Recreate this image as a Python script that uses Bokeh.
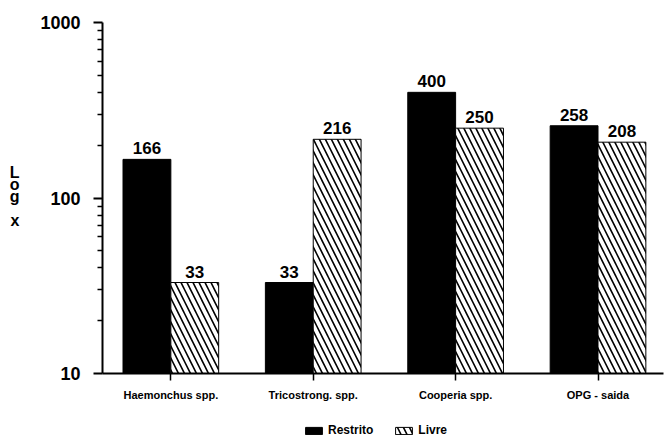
from bokeh.plotting import figure
from bokeh.layouts import column
from bokeh.models import (ColumnDataSource, Range1d, FixedTicker, LabelSet, LogAxis,
                          Legend, LegendItem)
from bokeh.core.properties import value
from bokeh.embed import file_html
from bokeh.resources import INLINE

categories = ["Haemonchus spp.", "Tricostrong. spp.", "Cooperia spp.", "OPG - saida"]
restrito = [166, 33, 400, 258]
livre = [33, 216, 250, 208]
y_ticks = [10, 100, 1000]
y_title_letters = ["L", "o", "g", "x"]
series_names = ["Restrito", "Livre"]

FONT = "Liberation Sans"
idx = list(range(len(categories)))
off = 0.168
w = 0.336

src_r = ColumnDataSource(dict(x=[i - off for i in idx], top=restrito,
                              lab=[str(v) for v in restrito]))
src_l = ColumnDataSource(dict(x=[i + off for i in idx], top=livre,
                              lab=[str(v) for v in livre]))

BLACK = dict(fill_color="black", line_color="black", line_width=1)
HATCH = dict(fill_color="white", line_color="black", line_width=1,
             hatch_pattern="\\", hatch_color="black", hatch_weight=1.6, hatch_scale=12)

p = figure(width=665, height=410, output_backend="svg", toolbar_location=None,
           y_axis_type="log", x_range=Range1d(-0.48, 3.46), y_range=Range1d(10, 1000),
           min_border_left=102, min_border_right=2, min_border_top=22, min_border_bottom=37)
p.outline_line_color = None
p.xgrid.grid_line_color = None
p.ygrid.grid_line_color = None
p.background_fill_color = "white"

p.vbar(x="x", top="top", bottom=10, width=w, source=src_r, **BLACK)
p.vbar(x="x", top="top", bottom=10, width=w, source=src_l, **HATCH)

for s in (src_r, src_l):
    p.add_layout(LabelSet(x="x", y="top", text="lab", source=s, text_align="center",
                          text_baseline="bottom", y_offset=5, text_font=value(FONT),
                          text_font_style="bold", text_font_size="17px", text_color="black"))

minor = [m * d for d in (10, 100) for m in range(2, 10)]
yax = p.yaxis[0]
yax.ticker = FixedTicker(ticks=y_ticks, minor_ticks=minor)
yax.major_label_overrides = {t: str(t) for t in y_ticks}
yax.major_tick_out = 9
yax.major_tick_in = 0
yax.minor_tick_out = 5
yax.minor_tick_in = 0
yax.major_label_standoff = 13
yax.major_label_text_font = FONT
yax.major_label_text_font_style = "bold"
yax.major_label_text_font_size = "18px"
yax.major_label_text_color = "black"
yax.axis_line_color = "black"
yax.major_tick_line_color = "black"
yax.minor_tick_line_color = "black"
yax.axis_line_width = 2
yax.major_tick_line_width = 2
yax.minor_tick_line_width = 1.5

# stacked y-axis title "Log x", drawn as the labels of a bare outer axis
title_pos = [140.6, 119.4, 102.6, 74.9]
tax = LogAxis(ticker=FixedTicker(ticks=title_pos, minor_ticks=[]),
              major_label_overrides={t: c for t, c in zip(title_pos, y_title_letters)},
              axis_line_color=None, major_tick_line_color=None, minor_tick_line_color=None,
              major_tick_out=0, major_tick_in=0, minor_tick_out=0, minor_tick_in=0,
              major_label_standoff=18, major_label_text_font=FONT,
              major_label_text_font_style="bold", major_label_text_font_size="16px",
              major_label_text_color="black")
p.add_layout(tax, "left")

xax = p.xaxis[0]
xax.ticker = FixedTicker(ticks=idx)
xax.major_label_overrides = {i: c for i, c in zip(idx, categories)}
xax.major_tick_out = 7
xax.major_tick_in = 0
xax.minor_tick_out = 0
xax.minor_tick_in = 0
xax.major_label_standoff = 8
xax.major_label_text_font = FONT
xax.major_label_text_font_style = "bold"
xax.major_label_text_font_size = "11px"
xax.major_label_text_color = "black"
xax.axis_line_color = "black"
xax.major_tick_line_color = "black"
xax.axis_line_width = 2
xax.major_tick_line_width = 1.5

# legend strip below the chart (its frame is aligned with the chart frame)
lg = figure(width=665, height=28, output_backend="svg", toolbar_location=None,
            x_axis_location=None, y_axis_location=None,
            x_range=Range1d(0, 1), y_range=Range1d(0, 1),
            min_border_left=102, min_border_right=2, min_border_top=0, min_border_bottom=0)
lg.outline_line_color = None
lg.xgrid.grid_line_color = None
lg.ygrid.grid_line_color = None
# off-screen proxies so the legend can borrow the bar styles
d1 = lg.vbar(x=[-5], top=[-4.5], bottom=-5, width=0.1, **BLACK)
d2 = lg.vbar(x=[-5], top=[-4.5], bottom=-5, width=0.1, **HATCH)

legend = Legend(items=[LegendItem(label=series_names[0], renderers=[d1]),
                       LegendItem(label=series_names[1], renderers=[d2])],
                orientation="horizontal", location=(201, 1),
                glyph_width=21, glyph_height=9, label_height=9, spacing=20,
                padding=0, margin=0, border_line_color=None, background_fill_alpha=0,
                label_text_font=FONT, label_text_font_style="bold",
                label_text_font_size="12px", label_standoff=4, label_text_color="black")
lg.add_layout(legend, "center")

open("out.html", "w").write(file_html(column(p, lg), INLINE))
